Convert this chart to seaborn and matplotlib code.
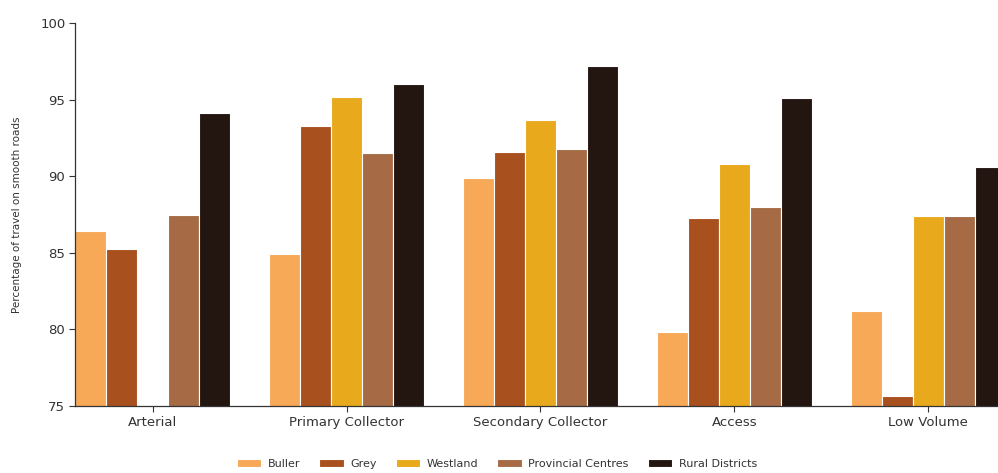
import matplotlib
matplotlib.use("Agg")
import matplotlib.pyplot as plt
import numpy as np
import pandas as pd
import seaborn as sns

# road classes and regions
categories = ["Arterial", "Primary Collector", "Secondary Collector", "Access", "Low Volume"]
regions = ["Buller", "Grey", "Westland", "Provincial Centres", "Rural Districts"]

buller = [86.4, 84.9, 89.9, 79.8, 81.2]
grey = [85.25, 93.3, 91.6, 87.3, 75.65]
westland = [np.nan, 95.2, 93.7, 90.8, 87.4]
provincial = [87.5, 91.5, 91.8, 88.0, 87.4]
rural = [94.1, 96.0, 97.2, 95.1, 90.6]

colours = ["#F7A957", "#A9501F", "#E8AA1C", "#A66B45", "#231510"]

rows = []
for reg, vals in zip(regions, [buller, grey, westland, provincial, rural]):
    for cat, v in zip(categories, vals):
        rows.append({"category": cat, "region": reg, "value": v})
df = pd.DataFrame(rows)

sns.set_style("white")
plt.rcParams['font.family'] = ['DejaVu Sans']

fig = plt.figure(figsize=(9.98, 4.73), dpi=100)
ax = fig.add_axes([0.0752, 0.1416, 0.9248, 0.8098])

sns.barplot(df, x="category", y="value", hue="region", order=categories,
            hue_order=regions, palette=colours, width=0.8, saturation=1,
            edgecolor="white", linewidth=0.8, ax=ax)

ax.set_ylim(75, 100)
ax.set_xlim(-0.4, 4.36)
ax.set_yticks([75, 80, 85, 90, 95, 100])
ax.set_xlabel("")
ax.set_ylabel("Percentage of travel on smooth roads", fontsize=7.5, color="#333333")
ax.yaxis.set_label_coords(-0.058, 0.5)
ax.tick_params(axis="both", which="major", bottom=True, left=True, direction="out",
               labelsize=9.5, colors="#333333", length=4, width=0.8, pad=3)
for s in ["top", "right"]:
    ax.spines[s].set_visible(False)
for s in ["left", "bottom"]:
    ax.spines[s].set_color("#333333")
    ax.spines[s].set_linewidth(0.9)

leg = ax.legend(loc="lower center", bbox_to_anchor=(0.457, -0.19), ncol=5, frameon=False,
                fontsize=8, handlelength=2.2, handleheight=0.7, columnspacing=1.7,
                handletextpad=0.6)
for t in leg.get_texts():
    t.set_color("#333333")

fig.savefig("out.png", dpi=100)
